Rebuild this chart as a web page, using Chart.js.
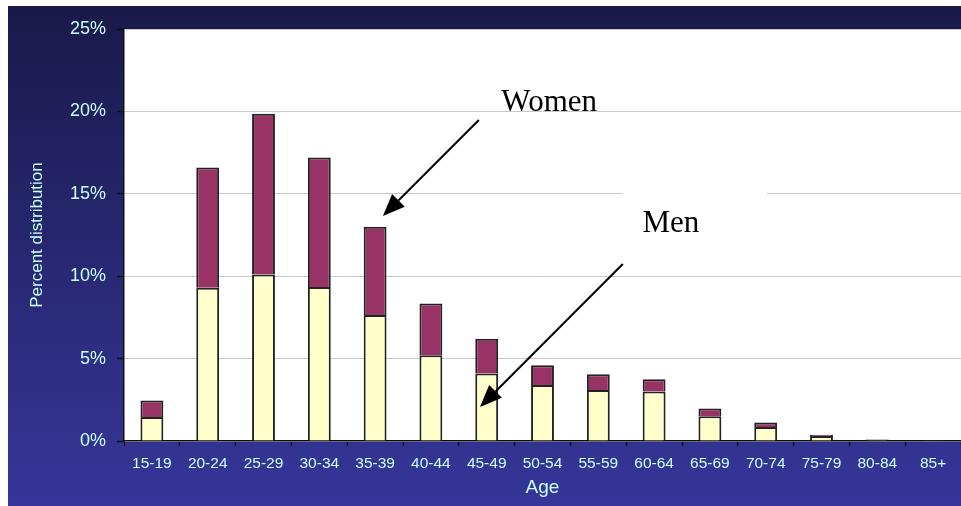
<!DOCTYPE html>
<html>
<head>
<meta charset="utf-8">
<script src="https://cdn.jsdelivr.net/npm/chart.js@4.4.0/dist/chart.umd.min.js"></script>
<style>
  html, body { margin: 0; padding: 0; background: #fff; }
  #wrap { width: 961px; height: 506px; position: relative; }
</style>
</head>
<body>
<div id="wrap"><canvas id="grafico"></canvas></div>
<script>
// datos
const edades = ["15-19", "20-24", "25-29", "30-34", "35-39", "40-44", "45-49", "50-54",
  "55-59", "60-64", "65-69", "70-74", "75-79", "80-84", "85+"];
const hombres = [1.45, 9.3, 10.1, 9.35, 7.65, 5.2, 4.1, 3.4, 3.1, 3.0, 1.5, 0.85, 0.3, 0.07, 0.02];
const mujeres = [1.0, 7.3, 9.75, 7.85, 5.35, 3.15, 2.1, 1.2, 0.95, 0.75, 0.47, 0.28, 0.08, 0.03, 0.02];
const ticksY = [0, 5, 10, 15, 20, 25];

// etiquetas con flecha (en unidades de datos: indice de categoria, porcentaje)
const notas = [
  { texto: "Women", x: 7.12, y: 20.0, desde: [5.86, 19.48], hasta: [4.14, 13.65] },
  { texto: "Men", x: 9.30, y: 12.68, desde: [8.44, 10.74], hasta: [5.88, 2.06], caja: [8.44, 11.02, 15.7, 11.4] }
];

const sans = "'Liberation Sans', Arial, sans-serif";
const celeste = "#ccffff";

const fondo = {
  id: "fondo",
  beforeDraw(chart) {
    const { ctx, width, height, chartArea } = chart;
    ctx.save();
    ctx.fillStyle = "#fff";
    ctx.fillRect(0, 0, width, height);
    const g = ctx.createLinearGradient(0, 6, 0, height);
    g.addColorStop(0, "#19194a");
    g.addColorStop(1, "#36369a");
    ctx.fillStyle = g;
    ctx.fillRect(8, 6, width - 8, height - 6);
    ctx.fillStyle = "#fff";
    ctx.fillRect(chartArea.left, chartArea.top, chartArea.right - chartArea.left, chartArea.bottom - chartArea.top);
    ctx.restore();
  },
  beforeDatasetsDraw(chart) {
    const { ctx } = chart;
    const sx = chart.scales.x, sy = chart.scales.y;
    ctx.save();
    ctx.fillStyle = "#fff";
    notas.forEach(n => {
      if (!n.caja) return;
      const x0 = sx.getPixelForValue(n.caja[0]), x1 = sx.getPixelForValue(n.caja[1]);
      const y0 = sy.getPixelForValue(n.caja[2]), y1 = sy.getPixelForValue(n.caja[3]);
      ctx.fillRect(x0, y0, x1 - x0, y1 - y0);
    });
    ctx.restore();
  },
  afterDraw(chart) {
    const { ctx } = chart;
    const sx = chart.scales.x, sy = chart.scales.y;
    ctx.save();
    notas.forEach(n => {
      ctx.fillStyle = "#000";
      ctx.font = "31px 'Liberation Serif', 'Times New Roman', serif";
      ctx.textAlign = "center";
      ctx.textBaseline = "alphabetic";
      ctx.fillText(n.texto, sx.getPixelForValue(n.x), sy.getPixelForValue(n.y));

      const ax = sx.getPixelForValue(n.desde[0]), ay = sy.getPixelForValue(n.desde[1]);
      const bx = sx.getPixelForValue(n.hasta[0]), by = sy.getPixelForValue(n.hasta[1]);
      const ang = Math.atan2(by - ay, bx - ax);
      const largo = 22, ancho = 9;
      const cx = bx - largo * Math.cos(ang), cy = by - largo * Math.sin(ang);
      ctx.strokeStyle = "#000";
      ctx.lineWidth = 2;
      ctx.beginPath();
      ctx.moveTo(ax, ay);
      ctx.lineTo(cx, cy);
      ctx.stroke();
      ctx.beginPath();
      ctx.moveTo(bx, by);
      ctx.lineTo(cx + ancho * Math.sin(ang), cy - ancho * Math.cos(ang));
      ctx.lineTo(cx - ancho * Math.sin(ang), cy + ancho * Math.cos(ang));
      ctx.closePath();
      ctx.fill();
    });
    ctx.restore();
  }
};

const ctx = document.getElementById("grafico").getContext("2d");
new Chart(ctx, {
  type: "bar",
  data: {
    labels: edades,
    datasets: [
      { label: "Men", data: hombres, backgroundColor: "#ffffcc", borderColor: "#222", borderWidth: 2 },
      { label: "Women", data: mujeres, backgroundColor: "#993366", borderColor: "#222", borderWidth: 2 }
    ]
  },
  options: {
    responsive: true,
    maintainAspectRatio: false,
    animation: false,
    barPercentage: 0.41,
    categoryPercentage: 1,
    layout: { padding: { top: 29, left: 0, right: 0, bottom: 0 } },
    plugins: { legend: { display: false }, tooltip: { enabled: false } },
    scales: {
      x: {
        stacked: true,
        grid: { drawOnChartArea: false, drawTicks: true, tickLength: 5, tickColor: "#111", tickWidth: 1.5 },
        border: { color: "#111", width: 1.5 },
        ticks: { color: celeste, font: { family: sans, size: 15.5 }, padding: 8, maxRotation: 0, autoSkip: false },
        title: { display: true, text: "Age", color: celeste, font: { family: sans, size: 19 }, padding: { top: 0, bottom: 7 } },
        afterFit(s) { s.height = 65; }
      },
      y: {
        stacked: true,
        min: 0,
        max: 25,
        afterBuildTicks(s) { s.ticks = ticksY.map(v => ({ value: v })); },
        grid: { color: "#c8c8c8", lineWidth: 1, tickLength: 7, tickColor: "#111", tickWidth: 1.5 },
        border: { color: "#111", width: 1.5 },
        ticks: { color: celeste, font: { family: sans, size: 18 }, padding: 11, callback: v => v + "%" },
        title: { display: true, text: "Percent distribution", color: celeste, font: { family: sans, size: 17 }, padding: { top: 27, bottom: 0 } },
        afterFit(s) { s.width = 124; }
      }
    }
  },
  plugins: [fondo]
});
</script>
</body>
</html>
